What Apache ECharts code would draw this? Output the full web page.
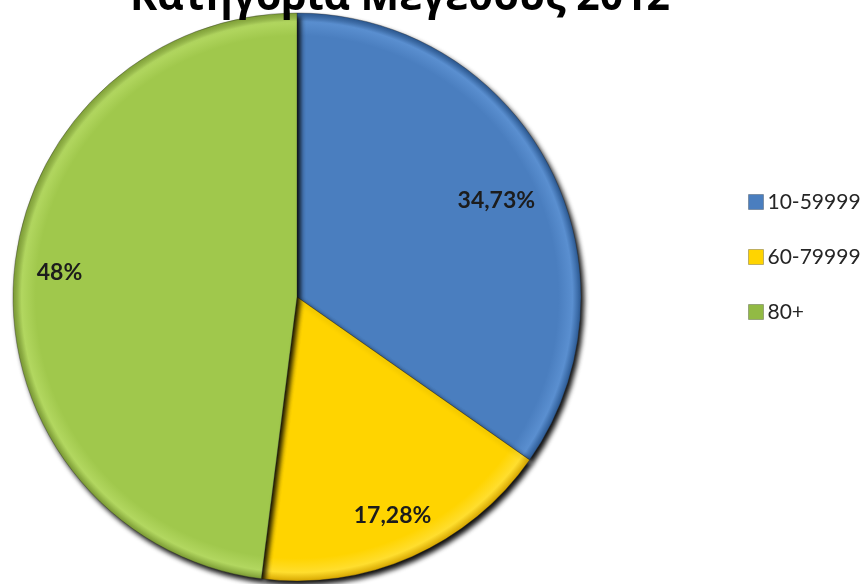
<!DOCTYPE html>
<html>
<head>
<meta charset="utf-8">
<script src="https://cdn.jsdelivr.net/npm/echarts@6/dist/echarts.min.js"></script>
<style>
  html, body { margin: 0; padding: 0; background: #ffffff; }
  #chart { width: 867px; height: 584px; }
</style>
</head>
<body>
<div id="chart"></div>
<script>
// Size categories and their share (%) for 2012
const categories = ['10-59999', '60-79999', '80+'];
const shares = [34.73, 17.28, 48];
const titleText = 'Κατηγορία Μεγέθους 2012';

// Pie geometry
const CX = 297, CY = 297, R = 284;

// Bevelled slice fills: flat body, bright rim, dark outer edge
function rimFill(body, rim, edge) {
  return {
    type: 'radial', x: CX, y: CY, r: R, global: true,
    colorStops: [
      { offset: 0, color: body },
      { offset: 0.92, color: body },
      { offset: 0.97, color: rim },
      { offset: 1, color: edge }
    ]
  };
}
const fills = [
  rimFill('#4a7ebf', '#5a8fd0', '#2c5a94'),
  rimFill('#ffd400', '#ffde2e', '#d6a600'),
  rimFill('#a0c84c', '#b2d760', '#7e9e36')
];
const legendColors = ['#4a7ebf', '#ffd400', '#92ba44'];
// Nudges for the value labels, per slice
const labelNudge = [[-10, 13], [0, 3], [-2, -10]];

const fmtShare = v => String(v).replace('.', ',') + '%';

const chart = echarts.init(document.getElementById('chart'));
chart.setOption({
  animation: false,
  backgroundColor: '#ffffff',
  title: {
    text: titleText,
    left: 395,
    textAlign: 'center',
    top: -27,
    textStyle: {
      fontFamily: 'Open Sans',
      fontWeight: 'bold',
      fontSize: 41,
      color: '#000000'
    }
  },
  legend: {
    orient: 'vertical',
    left: 743,
    top: 186,
    itemGap: 33,
    itemWidth: 15,
    itemHeight: 15,
    icon: 'rect',
    textStyle: {
      fontFamily: 'Lato',
      fontSize: 21,
      color: '#262626',
      lineHeight: 22,
      padding: [0, 0, 0, -1]
    },
    data: categories.map((name, i) => ({
      name,
      itemStyle: { color: legendColors[i], borderColor: 'rgba(0,0,0,0.25)', borderWidth: 1 }
    }))
  },
  series: [
    {
      name: 'slices',
      type: 'pie',
      center: [CX, CY],
      radius: [0, R],
      startAngle: 90,
      clockwise: true,
      label: { show: false },
      labelLine: { show: false },
      emphasis: { disabled: true },
      data: categories.map((name, i) => ({
        name,
        value: shares[i],
        itemStyle: {
          color: fills[i],
          borderColor: 'rgba(40,40,40,0.35)',
          borderWidth: 1,
          shadowBlur: 5,
          shadowOffsetX: 3,
          shadowOffsetY: 4,
          shadowColor: 'rgba(0,0,0,0.95)'
        }
      }))
    },
    {
      // Transparent ring carrying the value labels near the rim
      name: 'labels',
      type: 'pie',
      center: [CX, CY],
      radius: [182, R],
      startAngle: 90,
      clockwise: true,
      silent: true,
      itemStyle: { color: 'rgba(0,0,0,0)' },
      labelLine: { show: false },
      emphasis: { disabled: true },
      label: {
        show: true,
        position: 'inside',
        formatter: p => fmtShare(p.value),
        fontFamily: 'Lato',
        fontWeight: 'bold',
        fontSize: 23,
        color: '#1c1c1c'
      },
      data: categories.map((name, i) => ({
        name,
        value: shares[i],
        label: { offset: labelNudge[i] }
      }))
    }
  ]
});
</script>
</body>
</html>
